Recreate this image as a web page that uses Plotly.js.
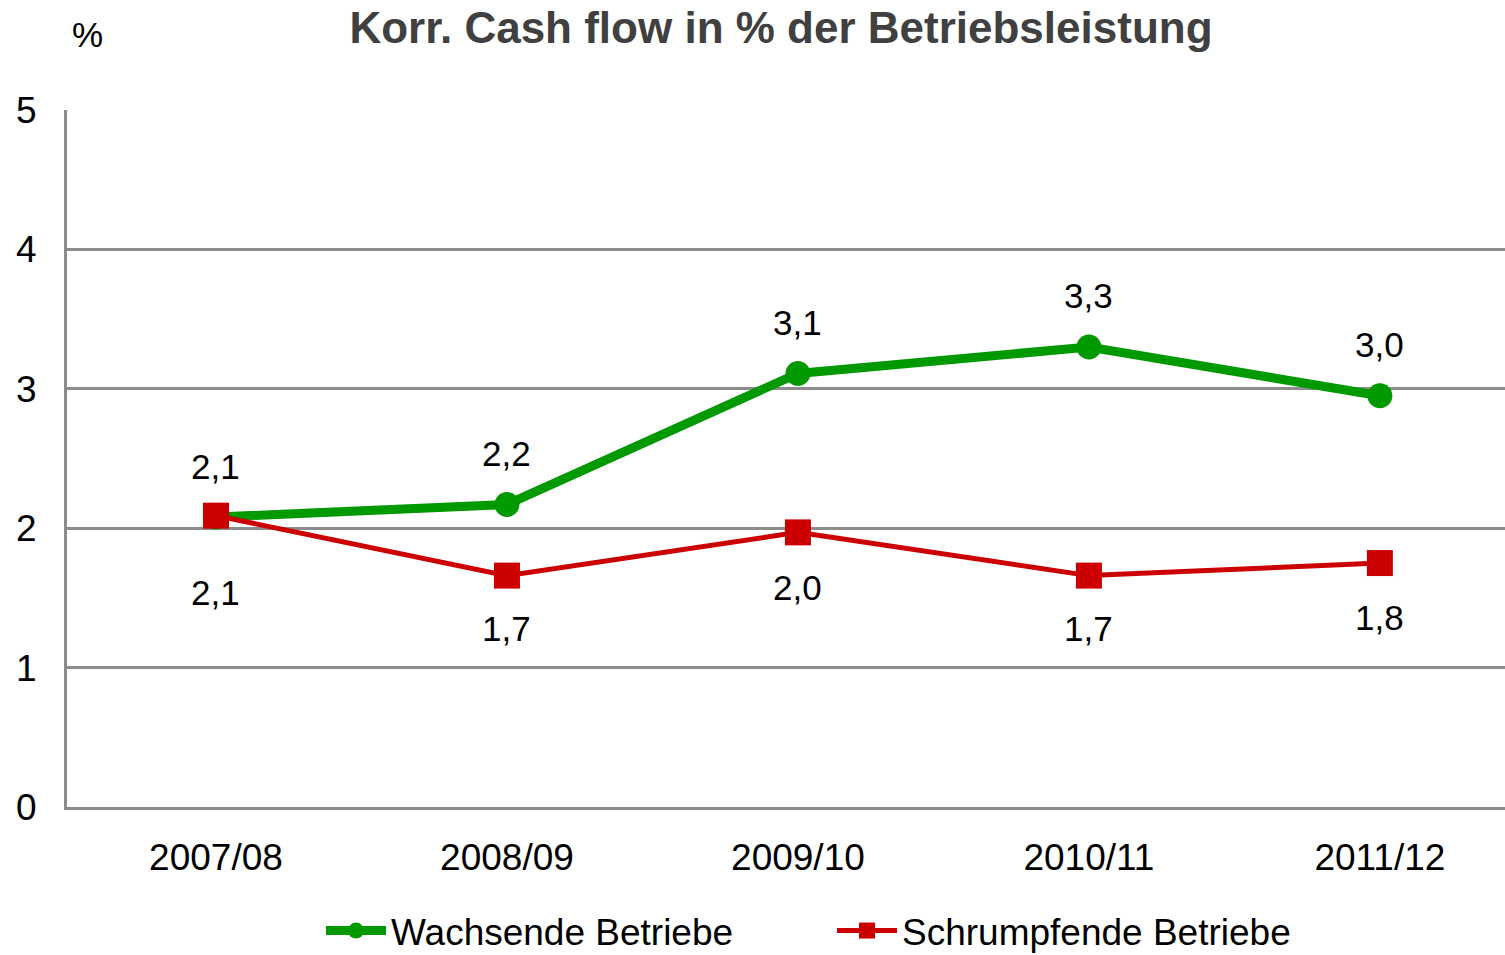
<!DOCTYPE html>
<html>
<head>
<meta charset="utf-8">
<script src="https://cdn.plot.ly/plotly-3.0.1.min.js"></script>
<style>html,body{margin:0;padding:0;background:#fff;}#chart{width:1505px;height:955px;}</style>
</head>
<body>
<div id="chart"></div>
<script>
const categories = ["2007/08", "2008/09", "2009/10", "2010/11", "2011/12"];
const wachsende = [2.08, 2.17, 3.11, 3.30, 2.95];
const schrumpfende = [2.09, 1.66, 1.97, 1.66, 1.75];
const wachsendeLabels = ["2,1", "2,2", "3,1", "3,3", "3,0"];
const schrumpfendeLabels = ["2,1", "1,7", "2,0", "1,7", "1,8"];
const yTicks = [0, 1, 2, 3, 4, 5];

const FONT = "Liberation Sans, Arial, sans-serif";
const GREEN = "#009900";
const RED = "#CC0000";

const traces = [
  {
    x: categories, y: wachsende, name: "Wachsende Betriebe", type: "scatter", mode: "lines+markers",
    line: {color: GREEN, width: 9},
    marker: {color: GREEN, size: 25, symbol: "circle"},
    hoverinfo: "skip"
  },
  {
    x: categories, y: schrumpfende, name: "Schrumpfende Betriebe", type: "scatter", mode: "lines+markers",
    line: {color: RED, width: 5},
    marker: {color: RED, size: 26, symbol: "square"},
    hoverinfo: "skip"
  }
];

const redShift = [-77, -53, -55, -53, -54];
const annotations = [];
wachsende.forEach((v, i) => annotations.push({
  x: categories[i], y: v, xref: "x", yref: "y", text: wachsendeLabels[i],
  showarrow: false, yshift: 51, font: {family: FONT, size: 35, color: "#000"}
}));
schrumpfende.forEach((v, i) => annotations.push({
  x: categories[i], y: v, xref: "x", yref: "y", text: schrumpfendeLabels[i],
  showarrow: false, yshift: redShift[i], font: {family: FONT, size: 35, color: "#000"}
}));
annotations.push({
  x: (87 - 67) / (1505 - 67), y: 1 + (110 - 35) / (807 - 110),
  xref: "paper", yref: "paper", xanchor: "center", yanchor: "middle",
  text: "%", showarrow: false,
  font: {family: FONT, size: 35, color: "#000"}
});

const layout = {
  width: 1505, height: 955,
  margin: {l: 67, r: 0, t: 110, b: 148, pad: 0, autoexpand: false},
  paper_bgcolor: "#fff", plot_bgcolor: "#fff",
  font: {family: FONT, size: 37, color: "#000"},
  title: {
    text: "<b>Korr. Cash flow in % der Betriebsleistung</b>",
    x: 781 / 1505, xanchor: "center", y: 1 - 28 / 955, yanchor: "middle",
    font: {family: FONT, size: 44, color: "#404040"}
  },
  xaxis: {
    type: "category", range: [-0.512, 4.43],
    showgrid: false, showline: true, linecolor: "#8c8c8c", linewidth: 3,
    ticks: "", ticklabelstandoff: 16, zeroline: false, automargin: false,
    tickfont: {family: FONT, size: 37, color: "#000"}, fixedrange: true
  },
  yaxis: {
    range: [0, 5], tickvals: yTicks, ticktext: yTicks.map(String),
    showgrid: true, gridcolor: "#8c8c8c", gridwidth: 3,
    showline: true, linecolor: "#8c8c8c", linewidth: 3, zeroline: false, automargin: false,
    ticks: "", ticklabelstandoff: 20,
    tickfont: {family: FONT, size: 37, color: "#000"}, fixedrange: true
  },
  showlegend: true,
  legend: {
    orientation: "h", x: (321 - 67) / 1438, xanchor: "left", y: -(931 - 807) / 697, yanchor: "middle",
    font: {family: FONT, size: 37, color: "#000"}, entrywidth: 436, entrywidthmode: "pixels",
    itemwidth: 60, bgcolor: "rgba(0,0,0,0)", borderwidth: 0
  },
  annotations: annotations
};

Plotly.newPlot("chart", traces, layout, {displayModeBar: false, staticPlot: true});
</script>
</body>
</html>
